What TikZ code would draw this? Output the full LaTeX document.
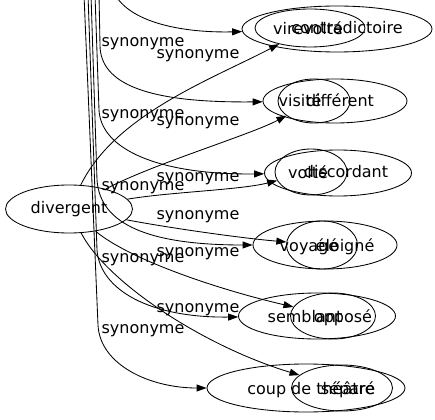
\documentclass[tikz,border=0pt]{standalone}
\usepackage{fontspec}
\setmainfont{DejaVu Sans}
\usetikzlibrary{shapes,arrows.meta}
\tikzset{main ellipse/.style={ellipse,draw,inner sep=0pt,minimum height=46pt},}
\tikzset{main label/.style={inner sep=0pt},}
\tikzset{main edge/.style={-{Triangle[length=10pt,width=7pt]}},}
\tikzset{every label/.style={yshift=-2pt},}

\begin{document}
\begin{tikzpicture}[x=1pt,y=-1pt,line width=0.85pt,every node/.style={font=\fontsize{16}{19}\selectfont,text height=12pt,text depth=4pt}]
    \useasboundingbox (0,0) rectangle (435,419);
    \clip (0,0) rectangle (435,419);

    \node[main ellipse,minimum width=127pt,minimum height=48pt] (1) at (69,209) {divergent};

    % synonymes de divergent
    \node[main ellipse,minimum width=110pt,minimum height=38pt,label={[xshift=37pt]center:contradictoire}] (2) at (310,28) {};
    \node[main ellipse,minimum width=72pt,minimum height=44pt,label={[xshift=26pt]center:différent}] (3) at (314,101) {};
    \node[main ellipse,minimum width=72pt,label={[xshift=35pt]center:discordant}] (4) at (311,172) {};
    \node[main ellipse,minimum width=71pt,minimum height=48pt,label={[xshift=23pt]center:éloigné}] (5) at (322,245) {};
    \node[main ellipse,minimum width=85pt,label={[xshift=10pt]center:opposé}] (6) at (333,316) {};
    \node[main ellipse,minimum width=101pt,label={[xshift=6pt]center:séparé}] (7) at (342,388) {};

    % l'autre graphe, coupe en haut
    \node[main ellipse,minimum width=190pt,label={[xshift=-29pt]center:virevolté}] (8) at (337,29) {};
    \node[main ellipse,minimum width=144pt,minimum height=44pt,label={[xshift=-35pt]center:visité}] (9) at (335,101) {};
    \node[main ellipse,minimum width=147pt,label={[xshift=-30pt]center:volté}] (10) at (338,173) {};
    \node[main ellipse,minimum width=144pt,minimum height=48pt,label={[xshift=-16pt]center:voyagé}] (11) at (325,245) {};
    \node[main ellipse,minimum width=157pt,label={[xshift=-12pt]center:semblant}] (12) at (317,316) {};
    \node[main ellipse,minimum width=198pt,minimum height=48pt,label={[xshift=5pt]center:coup de théâtre}] (13) at (306,388) {};

    \coordinate (t1) at (112,-12);
    \coordinate (t2) at (99,-5);
    \coordinate (t3) at (95,-5);
    \coordinate (t4) at (91,-5);
    \coordinate (t5) at (88,-5);
    \coordinate (t6) at (84,-5);

    \draw[main edge] (1) .. controls (115,115) and (210,80) .. (2);
    \draw[main edge] (1) .. controls (150,165) and (250,135) .. (3);
    \draw[main edge] (1) .. controls (170,192) and (240,190) .. (4);
    \draw[main edge] (1) .. controls (170,228) and (240,238) .. (5);
    \draw[main edge] (1) .. controls (130,260) and (220,290) .. (6);
    \draw[main edge] (1) .. controls (105,280) and (200,345) .. (7);

    \draw[main edge] (t1) .. controls (125,25) and (190,33) .. (8);
    \draw[main edge] (t2) -- (100,45) .. controls (100,85) and (150,103) .. (9);
    \draw[main edge] (t3) -- (99,110) .. controls (101,150) and (160,175) .. (10);
    \draw[main edge] (t4) -- (97,180) .. controls (100,225) and (150,245) .. (11);
    \draw[main edge] (t5) -- (97,250) .. controls (100,290) and (150,318) .. (12);
    \draw[main edge] (t6) -- (98,325) .. controls (100,365) and (150,388) .. (13);

    \node[main label] (s1) at (143,43) {synonyme};
    \node[main label] (s2) at (198,55) {synonyme};
    \node[main label] (s3) at (143,115) {synonyme};
    \node[main label] (s4) at (198,122) {synonyme};
    \node[main label] (s5) at (143,187) {synonyme};
    \node[main label] (s6) at (198,178) {synonyme};
    \node[main label] (s7) at (198,215) {synonyme};
    \node[main label] (s8) at (198,252) {synonyme};
    \node[main label] (s9) at (143,258) {synonyme};
    \node[main label] (s10) at (198,308) {synonyme};
    \node[main label] (s11) at (143,329) {synonyme};
\end{tikzpicture}
\end{document}
